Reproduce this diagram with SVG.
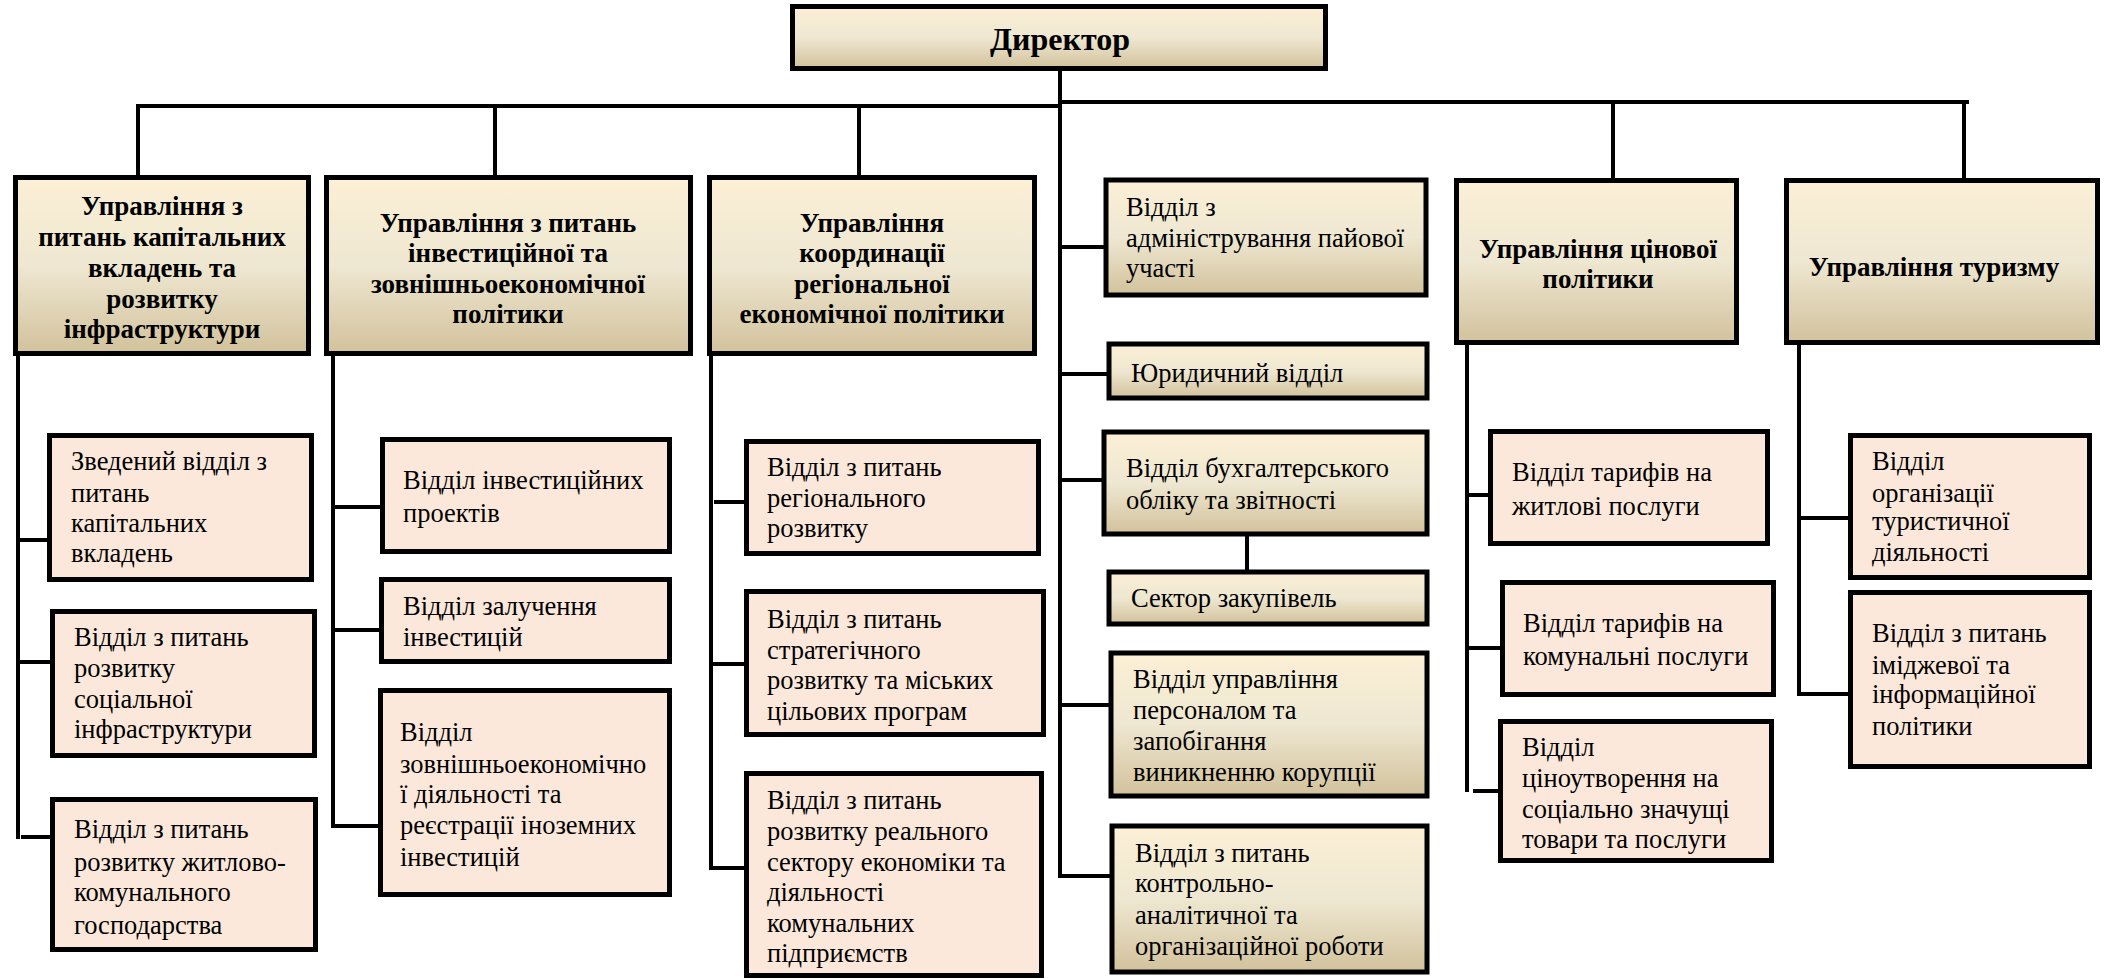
<svg xmlns="http://www.w3.org/2000/svg" width="2107" height="979" viewBox="0 0 2107 979">
<defs>
<linearGradient id="g" x1="0" y1="0" x2="0" y2="1">
<stop offset="0" stop-color="#FCF0D6"/>
<stop offset="0.5" stop-color="#EEE7D1"/>
<stop offset="1" stop-color="#D2C29C"/>
</linearGradient>
<style>
.hd{fill:url(#g);stroke:#000;stroke-width:5}
.st{fill:url(#g);stroke:#000;stroke-width:5}
.sb{fill:#FCE8DA;stroke:#000;stroke-width:5}
.ln{stroke:#000;stroke-width:4;fill:none}
text{font-family:"Liberation Serif","Times New Roman","DejaVu Serif",serif;font-size:26.5px;fill:#000}
.b{font-weight:bold;text-anchor:middle;font-size:27px}
.dir{font-size:32px}
</style>
</defs>
<rect width="2107" height="979" fill="#fff"/>
<g id="connectors">
<line class="ln" x1="1060" y1="71" x2="1060" y2="878"/>
<line class="ln" x1="136" y1="106" x2="1060" y2="106"/>
<line class="ln" x1="1060" y1="102" x2="1969" y2="102"/>
<line class="ln" x1="138" y1="106" x2="138" y2="176"/>
<line class="ln" x1="495" y1="106" x2="495" y2="176"/>
<line class="ln" x1="859" y1="106" x2="859" y2="176"/>
<line class="ln" x1="1613" y1="102" x2="1613" y2="179"/>
<line class="ln" x1="1964" y1="102" x2="1964" y2="179"/>
<line class="ln" x1="1058" y1="247" x2="1105" y2="247"/>
<line class="ln" x1="1058" y1="374" x2="1108" y2="374"/>
<line class="ln" x1="1058" y1="480" x2="1103" y2="480"/>
<line class="ln" x1="1247" y1="535" x2="1247" y2="571"/>
<line class="ln" x1="1058" y1="705" x2="1110" y2="705"/>
<line class="ln" x1="1058" y1="876" x2="1111" y2="876"/>
<line class="ln" x1="18" y1="355" x2="18" y2="839"/>
<line class="ln" x1="16" y1="540" x2="48" y2="540"/>
<line class="ln" x1="16" y1="662" x2="51" y2="662"/>
<line class="ln" x1="21" y1="837" x2="51" y2="837"/>
<line class="ln" x1="333" y1="355" x2="333" y2="828"/>
<line class="ln" x1="331" y1="507" x2="381" y2="507"/>
<line class="ln" x1="331" y1="630" x2="380" y2="630"/>
<line class="ln" x1="331" y1="826" x2="379" y2="826"/>
<line class="ln" x1="711" y1="355" x2="711" y2="870"/>
<line class="ln" x1="714" y1="502" x2="745" y2="502"/>
<line class="ln" x1="709" y1="664" x2="745" y2="664"/>
<line class="ln" x1="709" y1="868" x2="745" y2="868"/>
<line class="ln" x1="1467" y1="344" x2="1467" y2="792"/>
<line class="ln" x1="1465" y1="495" x2="1489" y2="495"/>
<line class="ln" x1="1465" y1="648" x2="1501" y2="648"/>
<line class="ln" x1="1473" y1="791" x2="1499" y2="791"/>
<line class="ln" x1="1799" y1="344" x2="1799" y2="696"/>
<line class="ln" x1="1797" y1="518" x2="1849" y2="518"/>
<line class="ln" x1="1797" y1="694" x2="1849" y2="694"/>
</g>
<g id="director">
<rect class="hd" x="792.5" y="6.5" width="533" height="62"/>
<text class="b dir" x="1060" y="50">Директор</text>
</g>
<g id="u1">
<rect class="hd" x="15.5" y="177.5" width="293" height="176"/>
<text class="b" x="162" y="215">Управління з</text>
<text class="b" x="162" y="246">питань капітальних</text>
<text class="b" x="162" y="277">вкладень та</text>
<text class="b" x="162" y="308">розвитку</text>
<text class="b" x="162" y="338">інфраструктури</text>
</g>
<g id="u2">
<rect class="hd" x="326.5" y="177.5" width="364" height="176"/>
<text class="b" x="508" y="232">Управління з питань</text>
<text class="b" x="508" y="262">інвестиційної та</text>
<text class="b" x="508" y="293">зовнішньоекономічної</text>
<text class="b" x="508" y="323">політики</text>
</g>
<g id="u3">
<rect class="hd" x="709.5" y="177.5" width="325" height="176"/>
<text class="b" x="872" y="232">Управління</text>
<text class="b" x="872" y="262">координації</text>
<text class="b" x="872" y="293">регіональної</text>
<text class="b" x="872" y="323">економічної політики</text>
</g>
<g id="u5">
<rect class="hd" x="1456.5" y="180.5" width="280" height="162"/>
<text class="b" x="1598" y="258">Управління цінової</text>
<text class="b" x="1598" y="288">політики</text>
</g>
<g id="u6">
<rect class="hd" x="1786.5" y="180.5" width="311" height="162"/>
<text class="b" x="1934" y="276">Управління туризму</text>
</g>
<g id="s_a">
<rect class="st" x="1106" y="180" width="320" height="115"/>
<text x="1126" y="216">Відділ з</text>
<text x="1126" y="247">адміністрування пайової</text>
<text x="1126" y="277">участі</text>
</g>
<g id="s_b">
<rect class="st" x="1109" y="344" width="318" height="54"/>
<text x="1131" y="382">Юридичний відділ</text>
</g>
<g id="s_c">
<rect class="st" x="1104" y="432" width="323" height="102"/>
<text x="1126" y="477">Відділ бухгалтерського</text>
<text x="1126" y="509">обліку та звітності</text>
</g>
<g id="s_e">
<rect class="st" x="1109" y="572" width="318" height="52"/>
<text x="1131" y="607">Сектор закупівель</text>
</g>
<g id="s_f">
<rect class="st" x="1111" y="653" width="316" height="143"/>
<text x="1133" y="688">Відділ управління</text>
<text x="1133" y="719">персоналом та</text>
<text x="1133" y="750">запобігання</text>
<text x="1133" y="781">виникненню корупції</text>
</g>
<g id="s_g">
<rect class="st" x="1112" y="826" width="315" height="146"/>
<text x="1135" y="862">Відділ з питань</text>
<text x="1135" y="892">контрольно-</text>
<text x="1135" y="924">аналітичної та</text>
<text x="1135" y="955">організаційної роботи</text>
</g>
<g id="d1_1">
<rect class="sb" x="49.5" y="435.5" width="262" height="144"/>
<text x="71" y="470">Зведений відділ з</text>
<text x="71" y="502">питань</text>
<text x="71" y="532">капітальних</text>
<text x="71" y="562">вкладень</text>
</g>
<g id="d1_2">
<rect class="sb" x="52.5" y="611.5" width="262" height="144"/>
<text x="74" y="646">Відділ з питань</text>
<text x="74" y="677">розвитку</text>
<text x="74" y="708">соціальної</text>
<text x="74" y="738">інфраструктури</text>
</g>
<g id="d1_3">
<rect class="sb" x="52.5" y="799.5" width="263" height="150"/>
<text x="74" y="838">Відділ з питань</text>
<text x="74" y="871">розвитку житлово-</text>
<text x="74" y="901">комунального</text>
<text x="74" y="934">господарства</text>
</g>
<g id="d2_1">
<rect class="sb" x="382.5" y="439.5" width="287" height="112"/>
<text x="403" y="489">Відділ інвестиційних</text>
<text x="403" y="522">проектів</text>
</g>
<g id="d2_2">
<rect class="sb" x="381.5" y="579.5" width="288" height="82"/>
<text x="403" y="615">Відділ залучення</text>
<text x="403" y="646">інвестицій</text>
</g>
<g id="d2_3">
<rect class="sb" x="380.5" y="690.5" width="289" height="204"/>
<text x="400" y="741">Відділ</text>
<text x="400" y="773">зовнішньоекономічно</text>
<text x="400" y="803">ї діяльності та</text>
<text x="400" y="834">реєстрації іноземних</text>
<text x="400" y="866">інвестицій</text>
</g>
<g id="d3_1">
<rect class="sb" x="746.5" y="441.5" width="292" height="112"/>
<text x="767" y="476">Відділ з питань</text>
<text x="767" y="507">регіонального</text>
<text x="767" y="537">розвитку</text>
</g>
<g id="d3_2">
<rect class="sb" x="746.5" y="591.5" width="297" height="143"/>
<text x="767" y="628">Відділ з питань</text>
<text x="767" y="659">стратегічного</text>
<text x="767" y="689">розвитку та міських</text>
<text x="767" y="720">цільових програм</text>
</g>
<g id="d3_3">
<rect class="sb" x="746.5" y="773.5" width="295" height="202"/>
<text x="767" y="809">Відділ з питань</text>
<text x="767" y="840">розвитку реального</text>
<text x="767" y="871">сектору економіки та</text>
<text x="767" y="901">діяльності</text>
<text x="767" y="932">комунальних</text>
<text x="767" y="962">підприємств</text>
</g>
<g id="d5_1">
<rect class="sb" x="1490.5" y="431.5" width="277" height="112"/>
<text x="1512" y="481">Відділ тарифів на</text>
<text x="1512" y="515">житлові послуги</text>
</g>
<g id="d5_2">
<rect class="sb" x="1502.5" y="582.5" width="271" height="112"/>
<text x="1523" y="632">Відділ тарифів на</text>
<text x="1523" y="665">комунальні послуги</text>
</g>
<g id="d5_3">
<rect class="sb" x="1500.5" y="721.5" width="271" height="139"/>
<text x="1522" y="756">Відділ</text>
<text x="1522" y="787">ціноутворення на</text>
<text x="1522" y="818">соціально значущі</text>
<text x="1522" y="848">товари та послуги</text>
</g>
<g id="d6_1">
<rect class="sb" x="1850.5" y="435.5" width="239" height="142"/>
<text x="1872" y="470">Відділ</text>
<text x="1872" y="502">організації</text>
<text x="1872" y="530">туристичної</text>
<text x="1872" y="561">діяльності</text>
</g>
<g id="d6_2">
<rect class="sb" x="1850.5" y="592.5" width="239" height="174"/>
<text x="1872" y="642">Відділ з питань</text>
<text x="1872" y="674">іміджевої та</text>
<text x="1872" y="703">інформаційної</text>
<text x="1872" y="735">політики</text>
</g>
</svg>
